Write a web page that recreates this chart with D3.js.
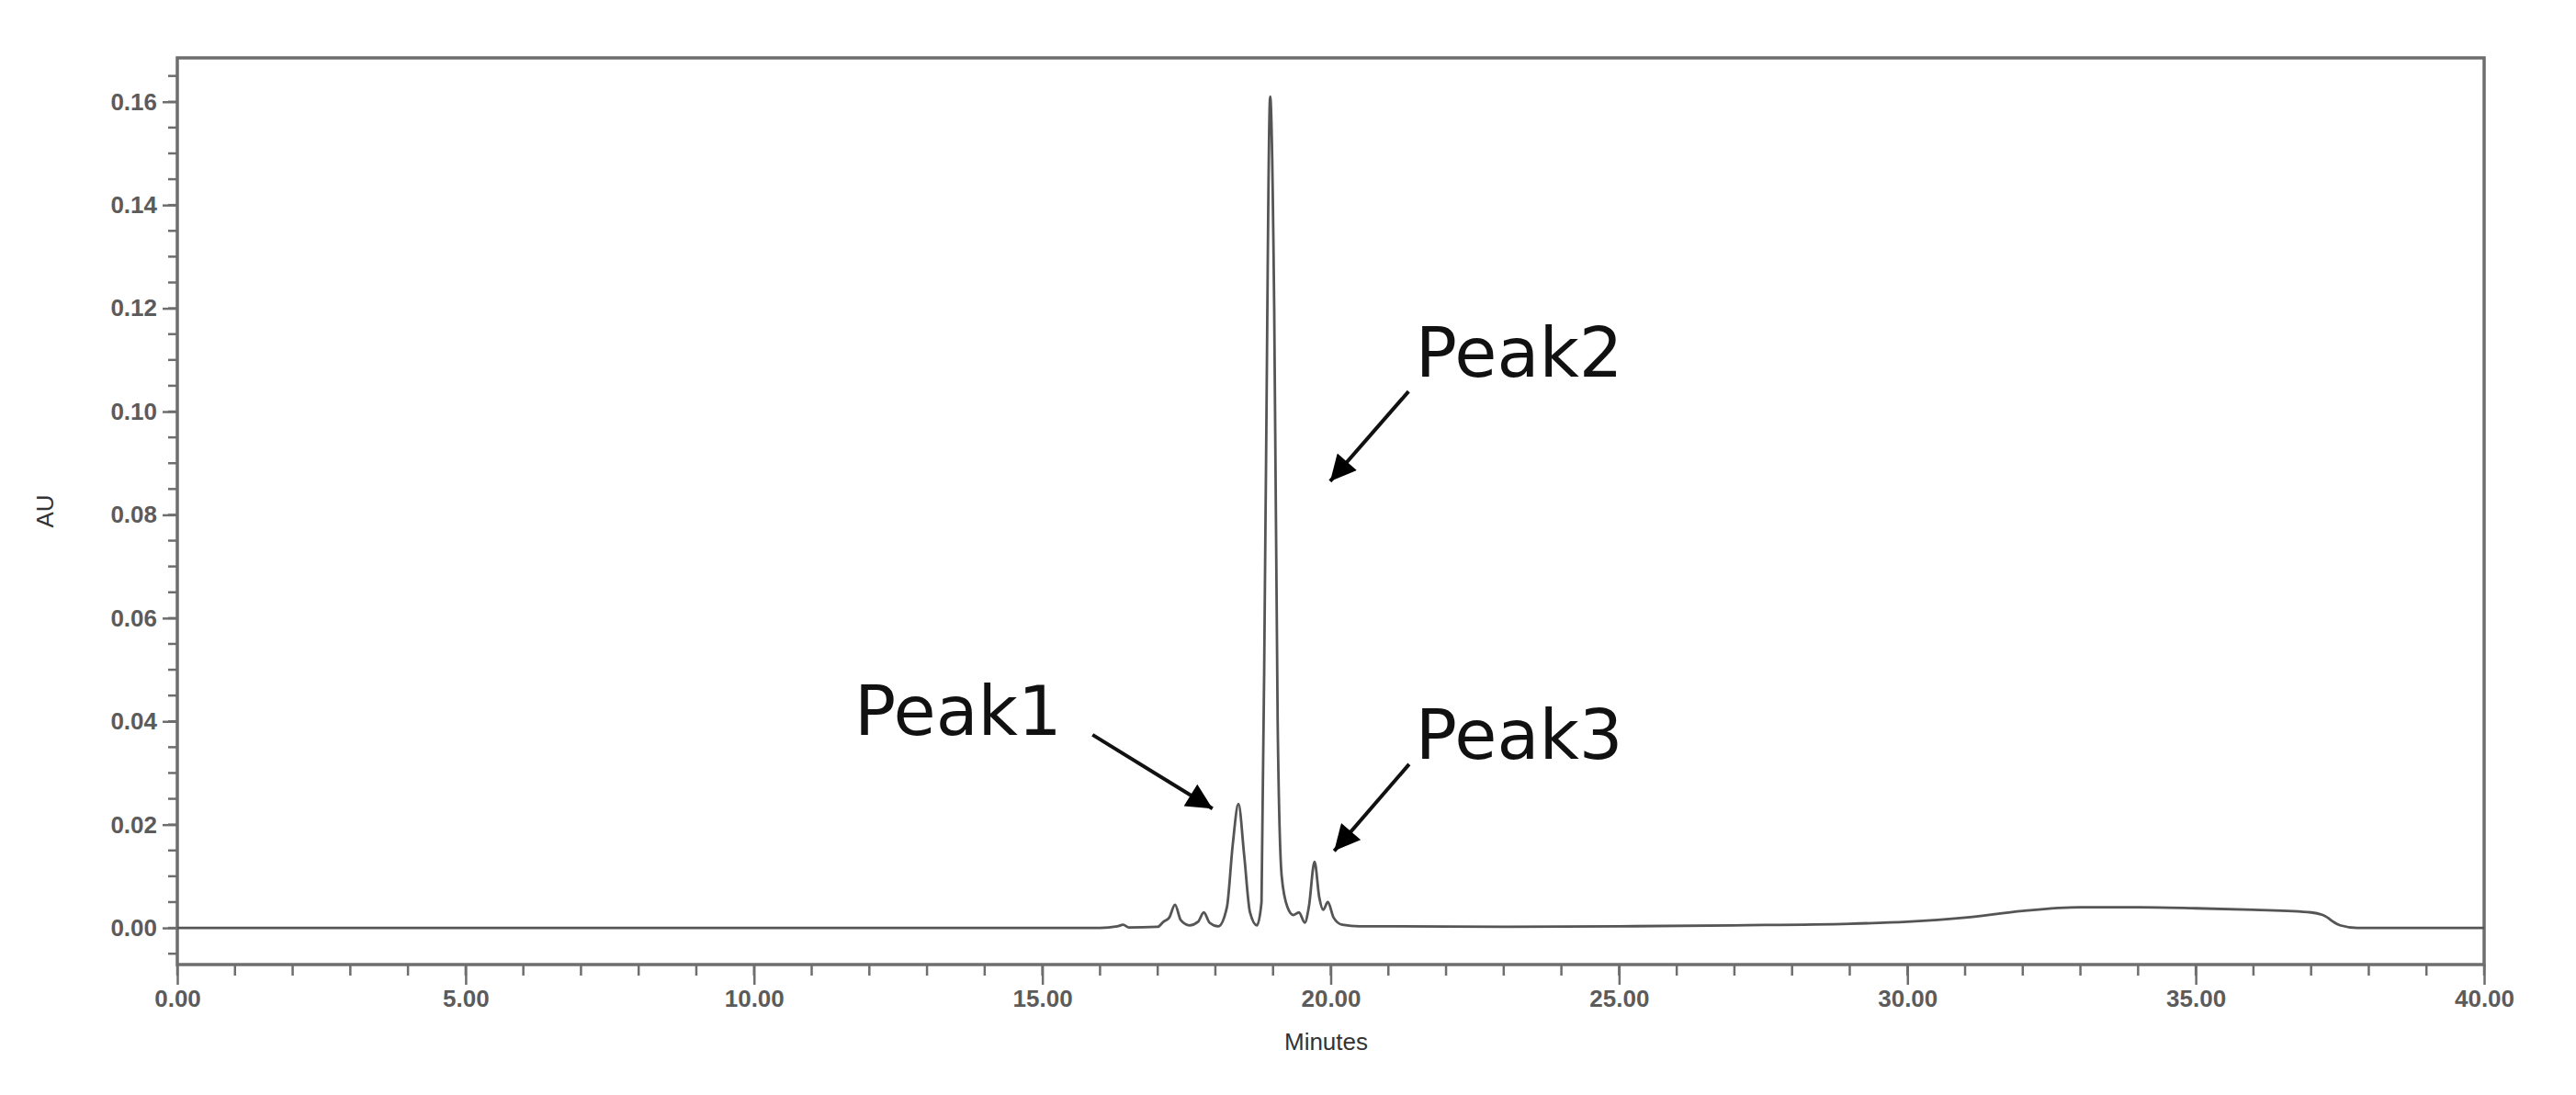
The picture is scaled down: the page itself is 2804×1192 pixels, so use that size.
<!DOCTYPE html>
<html><head><meta charset="utf-8">
<script src="https://cdn.jsdelivr.net/npm/d3@7"></script>
<style>body{margin:0;background:#fff}</style></head>
<body><svg id="c" width="2804" height="1192"></svg>
<script>
const times = [0,2,5,8,12,16.0,16.3,16.4,16.5,17.0,17.1,17.2,17.3,17.4,17.55,17.7,17.8,17.9,18.05,18.2,18.3,18.4,18.5,18.6,18.72,18.8,18.87,18.95,19.02,19.08,19.15,19.25,19.35,19.45,19.55,19.62,19.72,19.8,19.87,19.95,20.05,20.2,20.5,21,23,25,27,29,30,31,32,33,34,35,36,37,37.2,37.5,37.8,40];
const au    = [0,0,0,0,0,0,0.0003,0.0006,0.0001,0.0002,0.0012,0.002,0.0045,0.0015,0.0005,0.0012,0.003,0.001,0.0003,0.004,0.016,0.024,0.014,0.003,0.0005,0.005,0.08,0.161,0.12,0.04,0.01,0.004,0.0025,0.003,0.001,0.004,0.0128,0.006,0.0035,0.005,0.002,0.0006,0.0003,0.0003,0.0002,0.0003,0.0005,0.0008,0.0012,0.002,0.0033,0.004,0.004,0.0038,0.0035,0.003,0.0025,0.0005,0,0];
const xTickLabels = ["0.00","5.00","10.00","15.00","20.00","25.00","30.00","35.00","40.00"];
const yTickLabels = ["0.00","0.02","0.04","0.06","0.08","0.10","0.12","0.14","0.16"];
const annLabels = ["Peak1","Peak2","Peak3"];
const annText = [[11.74,0.0374],[21.47,0.1068],[21.47,0.0327]];
const annArrowFrom = [[15.87,0.0374],[21.35,0.1039],[21.36,0.0317]];
const annArrowTo = [[17.95,0.0231],[19.99,0.0865],[20.06,0.0149]];

const svg = d3.select("#c");
const L=193,R=2704,T=63,B=1050;
const x = d3.scaleLinear().domain([0,40]).range([L,R]);
const y = d3.scaleLinear().domain([-0.0071,0.1685]).range([B,T]);
const grey="#6e6e6e", txt="#333";

svg.append("defs").append("marker").attr("id","ah").attr("viewBox","0 0 10 10")
 .attr("refX",10).attr("refY",5).attr("markerWidth",9).attr("markerHeight",7).attr("orient","auto")
 .attr("markerUnits","strokeWidth")
 .append("path").attr("d","M0,0L10,5L0,10z").attr("fill","#000");

const yMinor = d3.range(-0.005,0.1651,0.005);
svg.append("g").selectAll("line").data(yMinor).join("line")
 .attr("x1",L-10).attr("x2",L).attr("y1",d=>y(d)).attr("y2",d=>y(d)).attr("stroke",grey).attr("stroke-width",2.5);
const xMinor = d3.range(0,40.01,1);
svg.append("g").selectAll("line").data(xMinor).join("line")
 .attr("x1",d=>x(d)).attr("x2",d=>x(d)).attr("y1",B).attr("y2",B+12).attr("stroke",grey).attr("stroke-width",2.5);

const ya = d3.axisLeft(y).tickValues(yTickLabels.map(Number)).tickFormat((d,i)=>yTickLabels[i]).tickSize(16).tickPadding(6);
const gy = svg.append("g").attr("transform",`translate(${L},0)`).call(ya);
const xa = d3.axisBottom(x).tickValues(xTickLabels.map(Number)).tickFormat((d,i)=>xTickLabels[i]).tickSize(22).tickPadding(6);
const gx = svg.append("g").attr("transform",`translate(0,${B})`).call(xa);
[gx,gy].forEach(g=>{g.select(".domain").remove();
 g.selectAll("line").attr("stroke",grey).attr("stroke-width",2.5);
 g.selectAll("text").attr("fill",txt).attr("font-family","Liberation Sans, Arial").attr("font-size",26).attr("font-weight","bold").attr("opacity",0.8);});

svg.append("rect").attr("x",L).attr("y",T).attr("width",R-L).attr("height",B-T)
 .attr("fill","none").attr("stroke",grey).attr("stroke-width",3.5);

const line = d3.line().x((d,i)=>x(times[i])).y((d,i)=>y(au[i])).curve(d3.curveMonotoneX);
svg.append("path").attr("d",line(au)).attr("fill","none").attr("stroke","#555").attr("stroke-width",2.8);

svg.append("text").attr("transform",`translate(58,${(T+B)/2}) rotate(-90)`).attr("text-anchor","middle")
 .attr("font-family","Liberation Sans, Arial").attr("font-size",26).attr("fill",txt).text("AU");
svg.append("text").attr("x",x(20)-5).attr("y",1143).attr("text-anchor","middle")
 .attr("font-family","Liberation Sans, Arial").attr("font-size",26).attr("fill",txt).text("Minutes");

annLabels.forEach((t,i)=>{
 svg.append("text").attr("x",x(annText[i][0])).attr("y",y(annText[i][1]))
  .attr("font-family","DejaVu Sans, Verdana").attr("font-size",75).attr("fill","#111").text(t);
 svg.append("line").attr("x1",x(annArrowFrom[i][0])).attr("y1",y(annArrowFrom[i][1]))
  .attr("x2",x(annArrowTo[i][0])).attr("y2",y(annArrowTo[i][1]))
  .attr("stroke","#111").attr("stroke-width",4).attr("marker-end","url(#ah)");
});
</script></body></html>
